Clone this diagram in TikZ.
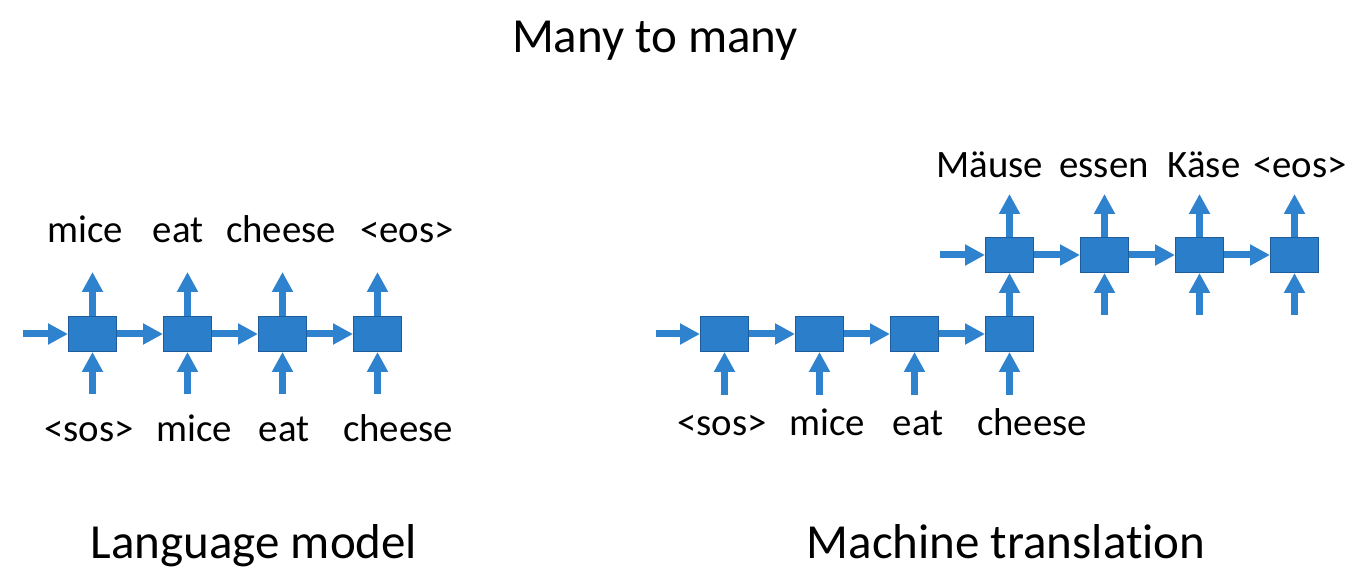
\documentclass[tikz,border=0pt]{standalone}
\usepackage{fontspec}
\setmainfont{Carlito}[RawFeature={-liga;-clig;-dlig;-calt}]
\usetikzlibrary{arrows.meta}
\definecolor{boxfill}{RGB}{43,127,202}
\definecolor{boxline}{RGB}{30,92,156}
\definecolor{arrcol}{RGB}{46,130,206}
\tikzset{
  cell/.style={draw=boxline, line width=1pt, fill=boxfill, minimum width=48pt, minimum height=35pt, inner sep=0pt},
  arr/.style={draw=arrcol, line width=7pt, -{Triangle[width=20pt,length=20pt]}},
  word/.style={font=\fontsize{38.8}{46}\selectfont, anchor=base, inner sep=0pt},
  head/.style={font=\fontsize{49}{58}\selectfont, anchor=base, inner sep=0pt}
}
\begin{document}
\begin{tikzpicture}[x=1pt,y=1pt]
\useasboundingbox (0,0) rectangle (1369,576);
% titles
\node[head] (title) at (655,523) {Many to many};
\node[head] (lm) at (254,17) {Language model};
\node[head] (mt) at (1006,17) {Machine translat\kern0pt ion};
% left: language model
\foreach \i/\x in {1/92.5,2/187.5,3/282.5,4/377.5}{
  \node[cell] (L\i) at (\x,242) {};
  \coordinate (Lin\i) at (\x,182);
  \coordinate (Lout\i) at (\x,304);
}
\coordinate (Lstart) at (23,242);
\draw[arr] (Lstart) -- (L1.west);
\draw[arr] (L1.east) -- (L2.west);
\draw[arr] (L2.east) -- (L3.west);
\draw[arr] (L3.east) -- (L4.west);
\foreach \i in {1,...,4}{
  \draw[arr] (Lin\i) -- (L\i.south);
  \draw[arr] (L\i.north) -- (Lout\i);
}
\node[word] (lt1) at (85,333) {mice};
\node[word] (lt2) at (178,333) {eat};
\node[word] (lt3) at (281,333) {cheese};
\node[word] (lt4) at (407,333) {<eos>};
\node[word] (lb1) at (89,134) {<sos>};
\node[word] (lb2) at (194,134) {mice};
\node[word] (lb3) at (284,134) {eat};
\node[word] (lb4) at (398,134) {cheese};
% right: machine translation, encoder
\foreach \i/\x in {1/724.5,2/819.5,3/914.5,4/1009.5}{
  \node[cell] (E\i) at (\x,242) {};
  \coordinate (Ein\i) at (\x,181);
}
\coordinate (Estart) at (656,242);
\draw[arr] (Estart) -- (E1.west);
\draw[arr] (E1.east) -- (E2.west);
\draw[arr] (E2.east) -- (E3.west);
\draw[arr] (E3.east) -- (E4.west);
\foreach \i in {1,...,4}{
  \draw[arr] (Ein\i) -- (E\i.south);
}
% decoder
\foreach \i/\x in {1/1009.5,2/1104.5,3/1199.5,4/1294.5}{
  \node[cell] (D\i) at (\x,321) {};
  \coordinate (Dout\i) at (\x,382);
}
\foreach \i in {2,3,4}{
  \coordinate (Din\i) at ([yshift=-42pt]D\i.south);
  \draw[arr] (Din\i) -- (D\i.south);
}
\coordinate (Dstart) at (940,321);
\draw[arr] (Dstart) -- (D1.west);
\draw[arr] (D1.east) -- (D2.west);
\draw[arr] (D2.east) -- (D3.west);
\draw[arr] (D3.east) -- (D4.west);
\draw[arr] (E4.north) -- (D1.south);
\foreach \i in {1,...,4}{
  \draw[arr] (D\i.north) -- (Dout\i);
}
\node[word] (rb1) at (722,140) {<sos>};
\node[word] (rb2) at (827,140) {mice};
\node[word] (rb3) at (918,140) {eat};
\node[word] (rb4) at (1032,140) {cheese};
\node[word] (rt1) at (990,398) {Mäuse};
\node[word] (rt2) at (1104,398) {essen};
\node[word] (rt3) at (1204,398) {Käse};
\node[word] (rt4) at (1300,398) {<eos>};
\end{tikzpicture}
\end{document}
